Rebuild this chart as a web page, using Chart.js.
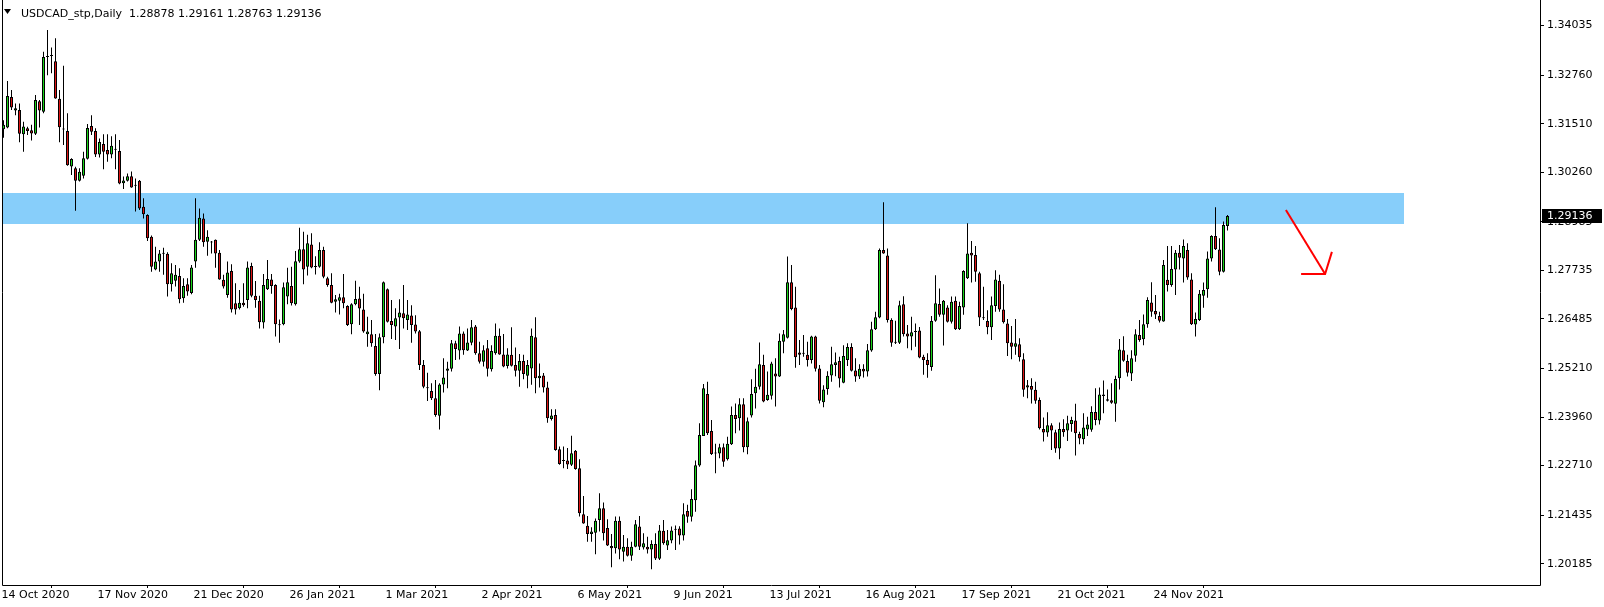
<!DOCTYPE html>
<html><head><meta charset="utf-8">
<script src="https://cdn.jsdelivr.net/npm/chart.js@4.4.0/dist/chart.umd.min.js"></script>
<style>html,body{margin:0;padding:0;background:#fff;}#wrap{width:1604px;height:607px;position:relative;}</style>
</head><body><div id="wrap"><canvas id="c" width="1604" height="607"></canvas></div>
<script>
const symbolTitle = 'USDCAD_stp,Daily';
const headerValues = ['1.28878', '1.29161', '1.28763', '1.29136'];
const tickLabels = ['14 Oct 2020','17 Nov 2020','21 Dec 2020','26 Jan 2021','1 Mar 2021','2 Apr 2021','6 May 2021','9 Jun 2021','13 Jul 2021','16 Aug 2021','17 Sep 2021','21 Oct 2021','24 Nov 2021'];
const tickEvery = 24;
const yTickValues = [1.34035,1.32760,1.31510,1.30260,1.28985,1.27735,1.26485,1.25210,1.23960,1.22710,1.21435,1.20185];
const lastPrice = 1.29136;
const zone = {from: -2, to: 350, low: 1.28928, high: 1.29734};
const arrowPts = {start: [320.6, 1.2929], tip: [330.4, 1.2764], wingA: [324.4, 1.2764], wingB: [332.1, 1.2821]};

const opens = [1.3137,1.3141,1.3220,1.3185,1.3186,1.3124,1.3139,1.3134,1.3125,1.3209,1.3182,1.3323,1.3325,1.3312,1.3215,1.3137,1.3132,1.3041,1.3036,1.3004,1.3017,1.3061,1.3145,1.3132,1.3072,1.3099,1.3083,1.3072,1.3084,1.3081,
1.2998,1.3004,1.3016,1.2993,1.3004,1.2937,1.2916,1.2860,1.2776,1.2796,1.2817,1.2816,1.2738,1.2747,1.2759,1.2702,1.2738,1.2715,1.2796,1.2852,1.2907,1.2847,1.2846,1.2852,1.2819,1.2749,1.2710,1.2772,1.2689,1.2676,
1.2690,1.2697,1.2785,1.2708,1.2695,1.2639,1.2725,1.2750,1.2736,1.2634,1.2635,1.2706,1.2733,1.2686,1.2796,1.2828,1.2783,1.2840,1.2783,1.2783,1.2826,1.2753,1.2736,1.2693,1.2695,1.2704,1.2682,1.2635,1.2686,1.2701,
1.2673,1.2609,1.2609,1.2579,1.2507,1.2601,1.2725,1.2643,1.2629,1.2652,1.2663,1.2646,1.2657,1.2634,1.2617,1.2530,1.2471,1.2463,1.2444,1.2399,1.2480,1.2515,1.2520,1.2586,1.2567,1.2611,1.2567,1.2587,1.2629,1.2560,
1.2538,1.2573,1.2519,1.2560,1.2605,1.2557,1.2527,1.2556,1.2530,1.2515,1.2540,1.2502,1.2521,1.2601,1.2496,1.2503,1.2472,1.2391,1.2401,1.2313,1.2284,1.2284,1.2273,1.2309,1.2264,1.2146,1.2116,1.2095,1.2098,1.2131,
1.2161,1.2110,1.2064,1.2058,1.2129,1.2049,1.2062,1.2039,1.2062,1.2114,1.2060,1.2062,1.2055,1.2069,1.2031,1.2103,1.2065,1.2078,1.2106,1.2109,1.2091,1.2154,1.2139,1.2182,1.2271,1.2347,1.2455,1.2360,1.2303,1.2302,
1.2318,1.2287,1.2326,1.2401,1.2393,1.2429,1.2318,1.2400,1.2457,1.2474,1.2530,1.2440,1.2451,1.2508,1.2500,1.2590,1.2600,1.2743,1.2678,1.2562,1.2560,1.2556,1.2543,1.2603,1.2521,1.2434,1.2468,1.2503,1.2530,1.2540,
1.2484,1.2543,1.2576,1.2516,1.2500,1.2520,1.2513,1.2567,1.2622,1.2652,1.2826,1.2812,1.2646,1.2588,1.2587,1.2686,1.2611,1.2603,1.2616,1.2619,1.2551,1.2543,1.2525,1.2644,1.2687,1.2659,1.2678,1.2641,1.2695,1.2622,
1.2678,1.2753,1.2819,1.2813,1.2766,1.2651,1.2643,1.2627,1.2682,1.2747,1.2673,1.2637,1.2588,1.2577,1.2583,1.2545,1.2472,1.2476,1.2466,1.2440,1.2365,1.2356,1.2375,1.2357,1.2315,1.2365,1.2361,1.2378,1.2387,1.2352,
1.2339,1.2364,1.2363,1.2409,1.2387,1.2450,1.2442,1.2439,1.2430,1.2496,1.2568,1.2540,1.2508,1.2554,1.2607,1.2596,1.2635,1.2691,1.2669,1.2656,1.2642,1.2749,1.2736,1.2776,1.2819,1.2804,1.2826,1.2750,1.2634,1.2646,
1.2708,1.2725,1.2804,1.2862,1.2827,1.2770,1.28878];
const highs = [1.3160,1.3261,1.3238,1.3203,1.3203,1.3156,1.3143,1.3148,1.3225,1.3212,1.3336,1.3392,1.3347,1.3371,1.3238,1.3300,1.3178,1.3062,1.3040,1.3036,1.3079,1.3150,1.3173,1.3139,1.3113,1.3124,1.3124,1.3119,1.3124,1.3109,
1.3015,1.3023,1.3028,1.3010,1.3006,1.2959,1.2918,1.2863,1.2834,1.2826,1.2832,1.2820,1.2792,1.2787,1.2779,1.2753,1.2753,1.2787,1.2959,1.2933,1.2920,1.2877,1.2849,1.2853,1.2826,1.2762,1.2796,1.2789,1.2740,1.2723,
1.2740,1.2796,1.2793,1.2746,1.2708,1.2764,1.2800,1.2764,1.2738,1.2647,1.2742,1.2780,1.2783,1.2823,1.2883,1.2873,1.2865,1.2869,1.2810,1.2846,1.2834,1.2757,1.2766,1.2710,1.2713,1.2764,1.2684,1.2689,1.2747,1.2731,
1.2713,1.2654,1.2646,1.2610,1.2611,1.2745,1.2727,1.2697,1.2676,1.2699,1.2736,1.2697,1.2684,1.2658,1.2620,1.2543,1.2510,1.2483,1.2491,1.2483,1.2547,1.2538,1.2594,1.2592,1.2629,1.2616,1.2624,1.2646,1.2633,1.2590,
1.2581,1.2594,1.2581,1.2637,1.2624,1.2610,1.2573,1.2627,1.2575,1.2558,1.2556,1.2543,1.2624,1.2653,1.2534,1.2509,1.2487,1.2416,1.2416,1.2320,1.2320,1.2316,1.2348,1.2311,1.2287,1.2193,1.2141,1.2112,1.2135,1.2200,
1.2176,1.2133,1.2095,1.2140,1.2140,1.2092,1.2084,1.2075,1.2131,1.2141,1.2097,1.2088,1.2079,1.2097,1.2118,1.2131,1.2105,1.2114,1.2117,1.2115,1.2174,1.2170,1.2210,1.2284,1.2380,1.2481,1.2487,1.2388,1.2327,1.2327,
1.2328,1.2345,1.2423,1.2431,1.2444,1.2444,1.2395,1.2493,1.2520,1.2588,1.2556,1.2513,1.2538,1.2547,1.2611,1.2620,1.2809,1.2787,1.2731,1.2594,1.2607,1.2590,1.2605,1.2605,1.2530,1.2478,1.2514,1.2577,1.2562,1.2551,
1.2581,1.2586,1.2586,1.2547,1.2532,1.2532,1.2584,1.2641,1.2667,1.2830,1.2949,1.2830,1.2650,1.2644,1.2695,1.2707,1.2633,1.2654,1.2637,1.2628,1.2556,1.2560,1.2656,1.2761,1.2727,1.2697,1.2684,1.2706,1.2706,1.2693,
1.2774,1.2895,1.2849,1.2836,1.2770,1.2731,1.2671,1.2706,1.2774,1.2762,1.2738,1.2648,1.2630,1.2648,1.2599,1.2560,1.2491,1.2496,1.2487,1.2446,1.2395,1.2408,1.2380,1.2363,1.2382,1.2390,1.2399,1.2397,1.2430,1.2358,
1.2406,1.2397,1.2424,1.2470,1.2472,1.2490,1.2467,1.2483,1.2502,1.2597,1.2604,1.2556,1.2568,1.2622,1.2646,1.2660,1.2704,1.2743,1.2710,1.2667,1.2800,1.2836,1.2836,1.2826,1.2839,1.2853,1.2843,1.2766,1.2665,1.2723,
1.2742,1.2822,1.2864,1.2936,1.2856,1.2899,1.29161];
const lows = [1.3115,1.3139,1.3186,1.3173,1.3103,1.3079,1.3122,1.3108,1.3122,1.3141,1.3178,1.3276,1.3281,1.3215,1.3103,1.3096,1.3043,1.3019,1.2927,1.3002,1.3010,1.3059,1.3122,1.3065,1.3064,1.3034,1.3053,1.3062,1.3034,1.2995,
1.2983,1.3002,1.2986,1.2925,1.2929,1.2907,1.2849,1.2770,1.2774,1.2770,1.2762,1.2706,1.2719,1.2732,1.2689,1.2690,1.2708,1.2712,1.2780,1.2849,1.2834,1.2811,1.2817,1.2780,1.2749,1.2727,1.2703,1.2665,1.2660,1.2673,
1.2680,1.2676,1.2704,1.2677,1.2624,1.2624,1.2723,1.2713,1.2603,1.2587,1.2632,1.2686,1.2683,1.2683,1.2793,1.2738,1.2760,1.2779,1.2763,1.2780,1.2753,1.2731,1.2689,1.2665,1.2660,1.2676,1.2630,1.2609,1.2684,1.2633,
1.2613,1.2577,1.2577,1.2502,1.2465,1.2586,1.2639,1.2597,1.2594,1.2571,1.2624,1.2620,1.2587,1.2611,1.2517,1.2470,1.2437,1.2440,1.2397,1.2364,1.2459,1.2470,1.2513,1.2543,1.2544,1.2556,1.2566,1.2581,1.2556,1.2534,
1.2526,1.2500,1.2513,1.2556,1.2556,1.2524,1.2521,1.2526,1.2500,1.2474,1.2493,1.2470,1.2479,1.2457,1.2472,1.2459,1.2381,1.2387,1.2309,1.2273,1.2264,1.2262,1.2270,1.2260,1.2140,1.2121,1.2075,1.2075,1.2043,1.2101,
1.2078,1.2064,1.2009,1.2045,1.2030,1.2024,1.2037,1.2026,1.2061,1.2054,1.2055,1.2045,1.2004,1.2028,1.2028,1.2067,1.2054,1.2071,1.2054,1.2068,1.2078,1.2124,1.2127,1.2152,1.2268,1.2347,1.2350,1.2298,1.2251,1.2290,
1.2268,1.2284,1.2324,1.2354,1.2361,1.2305,1.2300,1.2395,1.2418,1.2467,1.2434,1.2438,1.2441,1.2423,1.2499,1.2560,1.2598,1.2671,1.2523,1.2530,1.2551,1.2526,1.2534,1.2513,1.2431,1.2421,1.2453,1.2487,1.2501,1.2472,
1.2483,1.2527,1.2513,1.2487,1.2494,1.2498,1.2500,1.2564,1.2620,1.2650,1.2816,1.2639,1.2577,1.2584,1.2584,1.2603,1.2573,1.2568,1.2577,1.2547,1.2505,1.2497,1.2515,1.2641,1.2654,1.2580,1.2639,1.2637,1.2620,1.2620,
1.2659,1.2751,1.2742,1.2744,1.2630,1.2646,1.2609,1.2594,1.2667,1.2667,1.2637,1.2553,1.2545,1.2556,1.2539,1.2448,1.2444,1.2431,1.2430,1.2364,1.2333,1.2345,1.2311,1.2304,1.2287,1.2345,1.2334,1.2358,1.2297,1.2326,
1.2326,1.2347,1.2358,1.2375,1.2377,1.2406,1.2436,1.2430,1.2384,1.2467,1.2538,1.2500,1.2489,1.2538,1.2590,1.2581,1.2626,1.2654,1.2648,1.2639,1.2641,1.2719,1.2731,1.2710,1.2776,1.2742,1.2749,1.2633,1.2603,1.2643,
1.2677,1.2703,1.2796,1.2826,1.2761,1.2768,1.28763];
const closes = [1.3148,1.3222,1.3193,1.3191,1.3125,1.3144,1.3132,1.3126,1.3212,1.3185,1.3323,1.3324,1.3326,1.3216,1.3142,1.3136,1.3044,1.3060,1.3004,1.3027,1.3062,1.3140,1.3130,1.3072,1.3104,1.3079,1.3072,1.3094,1.3085,1.2997,
1.3005,1.3016,1.2987,1.2991,1.2933,1.2918,1.2856,1.2783,1.2796,1.2817,1.2816,1.2738,1.2766,1.2762,1.2699,1.2733,1.2719,1.2781,1.2852,1.2909,1.2846,1.2860,1.2845,1.2817,1.2750,1.2732,1.2768,1.2673,1.2673,1.2690,
1.2684,1.2781,1.2708,1.2697,1.2640,1.2736,1.2751,1.2733,1.2635,1.2632,1.2730,1.2743,1.2689,1.2797,1.2828,1.2776,1.2843,1.2781,1.2782,1.2826,1.2757,1.2736,1.2690,1.2699,1.2704,1.2689,1.2633,1.2686,1.2700,1.2675,
1.2616,1.2616,1.2586,1.2507,1.2601,1.2743,1.2641,1.2633,1.2650,1.2665,1.2650,1.2660,1.2633,1.2616,1.2530,1.2474,1.2470,1.2444,1.2401,1.2480,1.2498,1.2521,1.2586,1.2571,1.2611,1.2568,1.2588,1.2627,1.2560,1.2538,
1.2568,1.2520,1.2566,1.2605,1.2557,1.2526,1.2557,1.2528,1.2515,1.2540,1.2507,1.2530,1.2605,1.2496,1.2502,1.2472,1.2393,1.2400,1.2311,1.2275,1.2283,1.2274,1.2303,1.2262,1.2148,1.2122,1.2095,1.2101,1.2129,1.2161,
1.2097,1.2065,1.2058,1.2129,1.2055,1.2062,1.2039,1.2062,1.2120,1.2062,1.2071,1.2055,1.2069,1.2032,1.2104,1.2071,1.2079,1.2104,1.2107,1.2091,1.2146,1.2139,1.2185,1.2272,1.2350,1.2470,1.2354,1.2301,1.2302,1.2318,
1.2281,1.2327,1.2401,1.2391,1.2429,1.2318,1.2385,1.2455,1.2474,1.2532,1.2436,1.2453,1.2534,1.2500,1.2592,1.2609,1.2743,1.2674,1.2550,1.2556,1.2559,1.2543,1.2603,1.2520,1.2438,1.2467,1.2502,1.2532,1.2537,1.2495,
1.2553,1.2576,1.2515,1.2500,1.2520,1.2513,1.2568,1.2622,1.2653,1.2826,1.2817,1.2646,1.2587,1.2587,1.2684,1.2609,1.2603,1.2614,1.2615,1.2549,1.2543,1.2530,1.2643,1.2689,1.2659,1.2695,1.2641,1.2693,1.2622,1.2682,
1.2772,1.2817,1.2812,1.2770,1.2652,1.2650,1.2627,1.2684,1.2750,1.2673,1.2640,1.2586,1.2577,1.2586,1.2550,1.2466,1.2478,1.2466,1.2438,1.2367,1.2356,1.2375,1.2361,1.2315,1.2365,1.2357,1.2380,1.2388,1.2354,1.2341,
1.2369,1.2377,1.2409,1.2388,1.2454,1.2454,1.2438,1.2433,1.2494,1.2570,1.2541,1.2510,1.2547,1.2609,1.2594,1.2635,1.2697,1.2667,1.2660,1.2644,1.2787,1.2736,1.2777,1.2819,1.2806,1.2836,1.2755,1.2635,1.2648,1.2713,
1.2723,1.2804,1.2862,1.2828,1.2770,1.2890,1.29136];

const BULL = '#19d419', BEAR = '#dc1414';
const idx = opens.map((_, i) => i);
const wickData = idx.map(i => ({x: i, y: [lows[i], highs[i]]}));
const bodyData = idx.map(i => ({x: i, y: [Math.min(opens[i], closes[i]), Math.max(opens[i], closes[i])]}));
const bodyColors = idx.map(i => closes[i] >= opens[i] ? BULL : BEAR);

const FONT = 'DejaVu Sans';
Chart.defaults.font.family = FONT;
Chart.defaults.font.size = 11;
Chart.defaults.color = '#000';

const decor = {
  id: 'decor',
  beforeDatasetsDraw(chart) {
    const {ctx, chartArea: a, scales: {x, y}} = chart;
    ctx.save();
    ctx.beginPath(); ctx.rect(a.left, a.top, a.right - a.left, a.bottom - a.top); ctx.clip();
    const x0 = Math.max(a.left, x.getPixelForValue(zone.from));
    const x1 = Math.round(x.getPixelForValue(zone.to));
    const y0 = Math.round(y.getPixelForValue(zone.high)), y1 = Math.round(y.getPixelForValue(zone.low));
    ctx.fillStyle = '#87cefa';
    ctx.fillRect(x0, y0, x1 - x0, y1 - y0);
    ctx.restore();
  },
  afterDatasetsDraw(chart) {
    const {ctx, scales: {x, y}} = chart;
    const P = p => [x.getPixelForValue(p[0]), y.getPixelForValue(p[1])];
    const s = P(arrowPts.start), t = P(arrowPts.tip), wa = P(arrowPts.wingA), wb = P(arrowPts.wingB);
    ctx.save();
    ctx.strokeStyle = '#ff0000'; ctx.lineWidth = 2; ctx.lineCap = 'butt';
    ctx.beginPath(); ctx.moveTo(s[0], s[1]); ctx.lineTo(t[0], t[1]); ctx.stroke();
    ctx.beginPath(); ctx.moveTo(wa[0], wa[1]); ctx.lineTo(t[0], t[1]); ctx.lineTo(wb[0], wb[1]); ctx.stroke();
    ctx.restore();
  },
  afterDraw(chart) {
    const {ctx, chartArea: a, scales: {y}} = chart;
    ctx.save();
    ctx.strokeStyle = '#000'; ctx.lineWidth = 1;
    ctx.beginPath();
    ctx.moveTo(2.5, 0); ctx.lineTo(2.5, a.bottom + 0.5);
    ctx.lineTo(a.right + 0.5, a.bottom + 0.5);
    ctx.moveTo(a.right + 0.5, 0); ctx.lineTo(a.right + 0.5, a.bottom + 0.5);
    ctx.stroke();
    // header
    ctx.fillStyle = '#000';
    ctx.beginPath(); ctx.moveTo(4, 9); ctx.lineTo(11, 9); ctx.lineTo(7.5, 14); ctx.closePath(); ctx.fill();
    ctx.textBaseline = 'alphabetic'; ctx.textAlign = 'left';
    ctx.font = '11px "' + FONT + '"';
    ctx.fillText(symbolTitle + '  ' + headerValues.join(' '), 21, 17);
    // price label
    const py = Math.round(y.getPixelForValue(lastPrice));
    ctx.fillStyle = '#000';
    ctx.fillRect(a.right + 2, py - 7, 1602 - a.right - 2, 14);
    ctx.fillStyle = '#fff';
    ctx.textBaseline = 'middle';
    ctx.fillText(lastPrice.toFixed(5), a.right + 7, py + 0.5);
    ctx.restore();
  }
};

new Chart(document.getElementById('c'), {
  type: 'bar',
  data: {
    datasets: [
      {label: 'wick', data: wickData, backgroundColor: '#000', borderWidth: 0, barThickness: 1, grouped: false, inflateAmount: 0, order: 2},
      {label: 'body', data: bodyData, backgroundColor: bodyColors, borderColor: '#000', borderWidth: 1, borderSkipped: false, barThickness: 3, minBarLength: 1, grouped: false, inflateAmount: 0, order: 1}
    ]
  },
  options: {
    responsive: false, animation: false, devicePixelRatio: 1,
    layout: {padding: {left: 2, top: 0, right: 0, bottom: 0}},
    plugins: {legend: {display: false}, tooltip: {enabled: false}},
    scales: {
      x: {
        type: 'linear', min: -0.375, max: 384.125, offset: false,
        grid: {drawOnChartArea: false, drawTicks: true, tickLength: 3, color: '#000'},
        border: {display: false},
        afterBuildTicks: s => { s.ticks = tickLabels.map((_, i) => ({value: i * tickEvery})); },
        afterFit: s => { s.height = 22; s.paddingLeft = 0; s.paddingRight = 0; },
        ticks: {autoSkip: false, maxRotation: 0, align: 'start', padding: 1, labelOffset: -2,
          callback: (v, i) => tickLabels[i]}
      },
      y: {
        position: 'right', min: 1.19636, max: 1.34694,
        grid: {drawOnChartArea: false, drawTicks: true, tickLength: 4, color: '#000'},
        border: {display: false},
        afterBuildTicks: s => { s.ticks = yTickValues.map(v => ({value: v})); },
        afterFit: s => { s.width = 64; s.paddingTop = 0; s.paddingBottom = 0; },
        ticks: {autoSkip: false, padding: 3, callback: v => Number(v).toFixed(5)}
      }
    }
  },
  plugins: [decor]
});
</script></body></html>
